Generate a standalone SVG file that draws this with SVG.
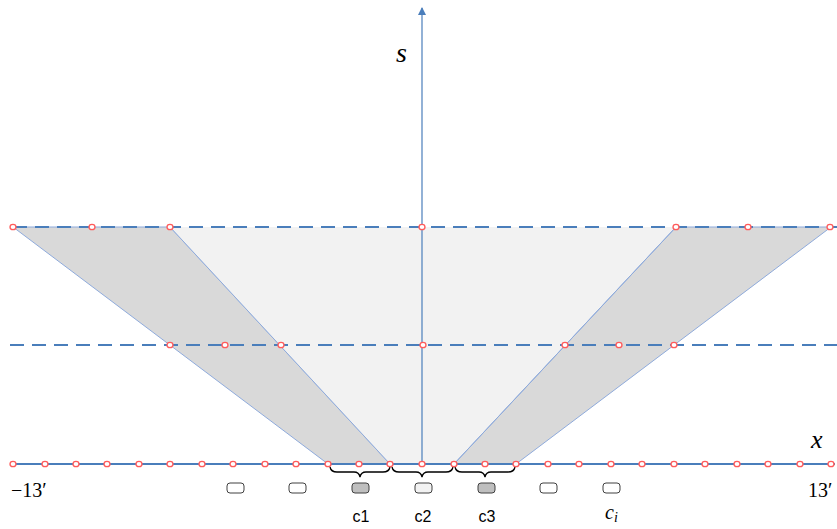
<svg xmlns="http://www.w3.org/2000/svg" width="837" height="529" viewBox="0 0 837 529">
<defs>
<style>
.dash{stroke:#4a7ebb;stroke-width:1.8;stroke-dasharray:14 8;fill:none}
.axis{stroke:#4a7ebb;fill:none}
.edge{stroke:#8eaadb;stroke-width:1}
.pt{fill:#fff;stroke:#ff5b5b;stroke-width:1.3}
.box{stroke:#404040;stroke-width:1}
.brace{fill:none;stroke:#000;stroke-width:1.3}
.math{font-family:"Liberation Serif","DejaVu Serif",serif;font-style:italic;fill:#000}
.num{font-family:"Liberation Serif","DejaVu Serif",serif;fill:#000;font-size:20px}
.lbl{font-family:"Liberation Sans","DejaVu Sans",sans-serif;fill:#000;font-size:16px;text-anchor:middle}
</style>
<marker id="arr" markerWidth="8" markerHeight="8" refX="7" refY="4" orient="auto" markerUnits="userSpaceOnUse">
<path d="M0,0 L8,4 L0,8 Z" fill="#4a7ebb"/>
</marker>
</defs>
<g id="regions">
<polygon id="left-band" points="13,227 170,227 390,464 328,464" fill="#d9d9d9" class="edge"/>
<polygon id="center-band" points="170,227 676,227 454,464 390,464" fill="#f2f2f2" stroke="none"/>
<polygon id="right-band" points="676,227 831,227 516,464 454,464" fill="#d9d9d9" class="edge"/>
<line x1="170" y1="227" x2="390" y2="464" class="edge"/>
<line x1="676" y1="227" x2="454" y2="464" class="edge"/>
</g>
<g id="connectors">
<line x1="13" y1="227" x2="837" y2="227" class="dash"/>
<line x1="10" y1="345" x2="837" y2="345" class="dash"/>
<line x1="422" y1="464" x2="422" y2="8" class="axis" stroke-width="1.2" marker-end="url(#arr)"/>
<line x1="10" y1="464" x2="835" y2="464" class="axis" stroke-width="2"/>
</g>
<g id="braces">
<path class="brace" d="M330,467 q1,5 7,5 H354 q5,0 6,5 q1,-5 6,-5 H383 q6,0 7,-5"/>
<path class="brace" d="M392,467 q1,5 7,5 H416 q5,0 6,5 q1,-5 6,-5 H446 q6,0 7,-5"/>
<path class="brace" d="M455,467 q1,5 7,5 H479 q5,0 6,5 q1,-5 6,-5 H508 q6,0 7,-5"/>
</g>
<g id="points">
<ellipse class="pt" cx="13" cy="464" rx="3" ry="2.7"/>
<ellipse class="pt" cx="45" cy="464" rx="3" ry="2.7"/>
<ellipse class="pt" cx="76" cy="464" rx="3" ry="2.7"/>
<ellipse class="pt" cx="107" cy="464" rx="3" ry="2.7"/>
<ellipse class="pt" cx="139" cy="464" rx="3" ry="2.7"/>
<ellipse class="pt" cx="170" cy="464" rx="3" ry="2.7"/>
<ellipse class="pt" cx="202" cy="464" rx="3" ry="2.7"/>
<ellipse class="pt" cx="233" cy="464" rx="3" ry="2.7"/>
<ellipse class="pt" cx="265" cy="464" rx="3" ry="2.7"/>
<ellipse class="pt" cx="296" cy="464" rx="3" ry="2.7"/>
<ellipse class="pt" cx="328" cy="464" rx="3" ry="2.7"/>
<ellipse class="pt" cx="359" cy="464" rx="3" ry="2.7"/>
<ellipse class="pt" cx="390" cy="464" rx="3" ry="2.7"/>
<ellipse class="pt" cx="422" cy="464" rx="3" ry="2.7"/>
<ellipse class="pt" cx="454" cy="464" rx="3" ry="2.7"/>
<ellipse class="pt" cx="485" cy="464" rx="3" ry="2.7"/>
<ellipse class="pt" cx="516" cy="464" rx="3" ry="2.7"/>
<ellipse class="pt" cx="548" cy="464" rx="3" ry="2.7"/>
<ellipse class="pt" cx="579" cy="464" rx="3" ry="2.7"/>
<ellipse class="pt" cx="611" cy="464" rx="3" ry="2.7"/>
<ellipse class="pt" cx="642" cy="464" rx="3" ry="2.7"/>
<ellipse class="pt" cx="674" cy="464" rx="3" ry="2.7"/>
<ellipse class="pt" cx="705" cy="464" rx="3" ry="2.7"/>
<ellipse class="pt" cx="737" cy="464" rx="3" ry="2.7"/>
<ellipse class="pt" cx="768" cy="464" rx="3" ry="2.7"/>
<ellipse class="pt" cx="800" cy="464" rx="3" ry="2.7"/>
<ellipse class="pt" cx="831" cy="464" rx="3" ry="2.7"/>
<ellipse class="pt" cx="13" cy="227" rx="3" ry="2.7"/>
<ellipse class="pt" cx="92" cy="227" rx="3" ry="2.7"/>
<ellipse class="pt" cx="170" cy="227" rx="3" ry="2.7"/>
<ellipse class="pt" cx="422" cy="227" rx="3" ry="2.7"/>
<ellipse class="pt" cx="676" cy="227" rx="3" ry="2.7"/>
<ellipse class="pt" cx="748" cy="227" rx="3" ry="2.7"/>
<ellipse class="pt" cx="830" cy="227" rx="3" ry="2.7"/>
<ellipse class="pt" cx="170" cy="345" rx="3" ry="2.7"/>
<ellipse class="pt" cx="225" cy="345" rx="3" ry="2.7"/>
<ellipse class="pt" cx="281" cy="345" rx="3" ry="2.7"/>
<ellipse class="pt" cx="423" cy="345" rx="3" ry="2.7"/>
<ellipse class="pt" cx="565" cy="345" rx="3" ry="2.7"/>
<ellipse class="pt" cx="619" cy="345" rx="3" ry="2.7"/>
<ellipse class="pt" cx="674" cy="345" rx="3" ry="2.7"/>
</g>
<g id="cells">
<rect id="cell-a" class="box" x="227" y="483" width="17" height="10" rx="3" fill="#fff"/>
<rect id="cell-b" class="box" x="289" y="483" width="17" height="10" rx="3" fill="#fff"/>
<rect id="cell-c1" class="box" x="352" y="483" width="17" height="10" rx="3" fill="#bfbfbf"/>
<rect id="cell-c2" class="box" x="415" y="483" width="17" height="10" rx="3" fill="#f2f2f2"/>
<rect id="cell-c3" class="box" x="478" y="483" width="17" height="10" rx="3" fill="#bfbfbf"/>
<rect id="cell-d" class="box" x="540" y="483" width="17" height="10" rx="3" fill="#fff"/>
<rect id="cell-ci" class="box" x="603" y="483" width="17" height="10" rx="3" fill="#fff"/>
</g>
<g id="labels">
<text class="math" x="396" y="62" font-size="28">s</text>
<text class="math" x="811" y="448" font-size="26">x</text>
<text class="num" x="11" y="497">−13′</text>
<text class="num" x="808" y="497">13′</text>
<text class="lbl" x="361" y="522">c1</text>
<text class="lbl" x="423" y="522">c2</text>
<text class="lbl" x="487" y="522">c3</text>
<text class="math" x="605" y="519" font-size="20">c<tspan font-size="14" dy="3">i</tspan></text>
</g>
</svg>
